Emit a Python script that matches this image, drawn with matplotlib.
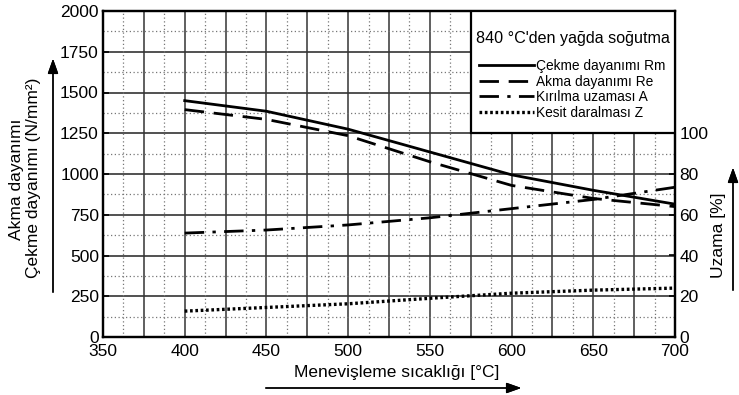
import matplotlib
matplotlib.use("Agg")
import matplotlib.pyplot as plt
from matplotlib.ticker import MultipleLocator
from matplotlib.patches import Rectangle
from matplotlib.lines import Line2D

plt.rcParams['font.family'] = ['Liberation Sans', 'DejaVu Sans']

# sicaklik [C]
sicaklik = [400, 450, 500, 550, 600, 650, 700]
# dayanim degerleri [N/mm2]
Rm = [1450, 1385, 1275, 1135, 995, 900, 815]
Re = [1395, 1335, 1235, 1075, 930, 850, 800]
# uzama / daralma [%]
A = [51, 52.5, 55, 58.5, 63, 67.5, 73.5]
Z = [12.7, 14.5, 16.3, 19, 21.5, 23, 24]

etiketler = ["Çekme dayanımı Rm", "Akma dayanımı Re", "Kırılma uzaması A", "Kesit daralması Z"]

W, H = 739, 395
fig = plt.figure(figsize=(W / 100, H / 100), dpi=100)
ax = fig.add_axes([103 / W, 1 - 337 / H, 572 / W, 326 / H])
ax2 = ax.twinx()

ax.set_xlim(350, 700)
ax.set_ylim(0, 2000)
ax2.set_ylim(0, 160)

ax.xaxis.set_major_locator(MultipleLocator(50))
ax.yaxis.set_major_locator(MultipleLocator(250))
ax2.set_yticks([0, 20, 40, 60, 80, 100])

# izgara
for v in range(375, 700, 25):
    ax.axvline(v, color='#444444', lw=1.2, zorder=1)
for v in range(250, 2000, 250):
    ax.axhline(v, color='#333333', lw=1.2, zorder=1)
for v in [362.5 + 25 * i for i in range(14)]:
    ax.axvline(v, color='#777777', lw=0.9, ls=(0, (1, 2)), zorder=1)
for v in [125 + 250 * i for i in range(8)]:
    ax.axhline(v, color='#777777', lw=0.9, ls=(0, (1, 2)), zorder=1)

sty_rm = dict(color='black', lw=2.0, ls='-')
sty_re = dict(color='black', lw=2.0, ls=(0, (7, 3.5)))
sty_a = dict(color='black', lw=2.0, ls=(0, (7, 3, 1.2, 3)))
sty_z = dict(color='black', lw=2.4, ls=(0, (0.8, 0.8)))

ax.plot(sicaklik, Rm, zorder=3, **sty_rm)
ax.plot(sicaklik, Re, zorder=3, **sty_re)
ax2.plot(sicaklik, A, zorder=3, **sty_a)
ax2.plot(sicaklik, Z, zorder=3, **sty_z)

for a in (ax, ax2):
    for s in a.spines.values():
        s.set_linewidth(1.6)
        s.set_color('black')

ax.tick_params(axis='both', labelsize=12.5, direction='in', length=4, width=1.2, pad=3)
ax.tick_params(axis='x', length=0, pad=5)
ax2.tick_params(axis='y', labelsize=12.5, direction='in', length=4, width=1.2, pad=3)

# lejant kutusu
ax2.add_patch(Rectangle((575, 1250), 125, 750, transform=ax.transData,
                        facecolor='white', edgecolor='black', lw=1.6, zorder=5))
ax2.text(476 / W, 1 - 38 / H, "840 °C'den yağda soğutma", transform=fig.transFigure,
         fontsize=11.6, ha='left', va='center', zorder=6)
handles = [Line2D([], [], **sty_rm), Line2D([], [], **sty_re),
           Line2D([], [], **sty_a), Line2D([], [], **sty_z)]
leg = ax2.legend(handles, etiketler, loc='upper left', bbox_to_anchor=(479 / W, 1 - 59 / H),
                 bbox_transform=fig.transFigure, frameon=False, fontsize=9.9,
                 handlelength=4.0, handletextpad=0.15, labelspacing=0.12,
                 borderaxespad=0, borderpad=0)
leg.set_zorder(6)

# eksen etiketleri ve oklar
fig.text(17 / W, 1 - 179 / H, "Akma dayanımı", rotation=90, ha='center', va='center', fontsize=12.5)
fig.text(34 / W, 1 - 178 / H, "Çekme dayanımı (N/mm²)", rotation=90, ha='center', va='center', fontsize=12.5)
fig.text(719 / W, 1 - 235 / H, "Uzama [%]", rotation=90, ha='center', va='center', fontsize=12.5)
fig.text(397 / W, 1 - 372 / H, "Menevişleme sıcaklığı [°C]", ha='center', va='center', fontsize=12.5)

ok = dict(arrowstyle='-|>,head_length=0.9,head_width=0.32', color='black', lw=1.0)
fig.add_artist(plt.annotate('', xy=(53 / W, 1 - 56 / H), xytext=(53 / W, 1 - 295 / H),
                            xycoords='figure fraction', arrowprops=ok))
fig.add_artist(plt.annotate('', xy=(733 / W, 1 - 165 / H), xytext=(733 / W, 1 - 293 / H),
                            xycoords='figure fraction', arrowprops=ok))
fig.add_artist(plt.annotate('', xy=(524 / W, 1 - 388 / H), xytext=(263 / W, 1 - 388 / H),
                            xycoords='figure fraction', arrowprops=ok))

fig.savefig("out.png", dpi=100)
